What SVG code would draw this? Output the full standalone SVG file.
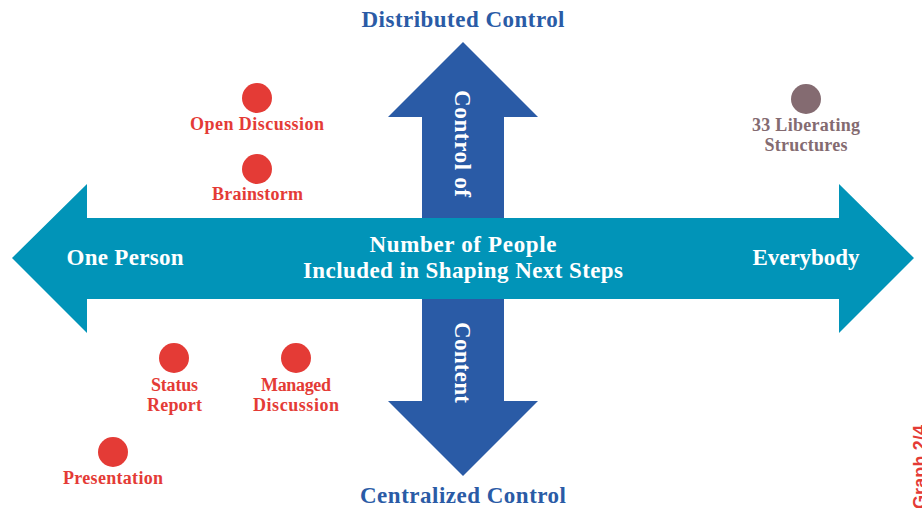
<svg xmlns="http://www.w3.org/2000/svg" width="922" height="508" viewBox="0 0 922 508">
<style>
text{font-family:"Liberation Serif","Times New Roman",serif;font-weight:bold;text-anchor:middle}
.ax{fill:#fff;font-size:23px}
.pole{fill:#2a5ba6;font-size:23px}
.lbl{fill:#e43b36;font-size:18px}
.lib{fill:#846b71;font-size:18px}
.dot{fill:#e43b36}
</style>
<rect width="922" height="508" fill="#fff"/>
<g id="connectors">
<polygon id="vertical-axis" fill="#2a5ba6" points="463,42 538,117 504,117 504,401 538,401 463,476 388,401 422,401 422,117 388,117"/>
<polygon id="horizontal-axis" fill="#0194b8" points="12,258 87,184 87,218 839,218 839,184 914,258 839,333 839,299 87,299 87,333"/>
</g>
<g id="axis-labels">
<text class="pole" x="463" y="27" textLength="203">Distributed Control</text>
<text class="pole" x="463" y="503" textLength="206">Centralized Control</text>
<text class="ax" x="463" y="252" textLength="187">Number of People</text>
<text class="ax" x="463" y="278" textLength="320">Included in Shaping Next Steps</text>
<text class="ax" x="125" y="265" textLength="117">One Person</text>
<text class="ax" x="806" y="265" textLength="107">Everybody</text>
<text class="ax" transform="translate(455,143.5) rotate(90)" textLength="107">Control of</text>
<text class="ax" transform="translate(455,362.5) rotate(90)" textLength="81">Content</text>
</g>
<g id="open-discussion">
<circle class="dot" cx="257" cy="98" r="15"/>
<text class="lbl" x="257" y="130" textLength="134">Open Discussion</text>
</g>
<g id="brainstorm">
<circle class="dot" cx="257" cy="169" r="15"/>
<text class="lbl" x="257.5" y="200" textLength="91">Brainstorm</text>
</g>
<g id="liberating-structures">
<circle fill="#846b71" cx="806" cy="99" r="15"/>
<text class="lib" x="806" y="131" textLength="108">33 Liberating</text>
<text class="lib" x="806" y="151" textLength="83">Structures</text>
</g>
<g id="status-report">
<circle class="dot" cx="174" cy="358" r="15"/>
<text class="lbl" x="174.5" y="391" textLength="47">Status</text>
<text class="lbl" x="174.5" y="411" textLength="55">Report</text>
</g>
<g id="managed-discussion">
<circle class="dot" cx="296" cy="358" r="15"/>
<text class="lbl" x="296" y="391" textLength="70">Managed</text>
<text class="lbl" x="296" y="411" textLength="86">Discussion</text>
</g>
<g id="presentation">
<circle class="dot" cx="113" cy="452" r="15"/>
<text class="lbl" x="113" y="484" textLength="100">Presentation</text>
</g>
<text transform="translate(926,509) rotate(-90)" style="font-family:'Liberation Sans',Arial,sans-serif;font-size:18px;fill:#e43b36;text-anchor:start" textLength="84">Graph 2/4</text>
</svg>
